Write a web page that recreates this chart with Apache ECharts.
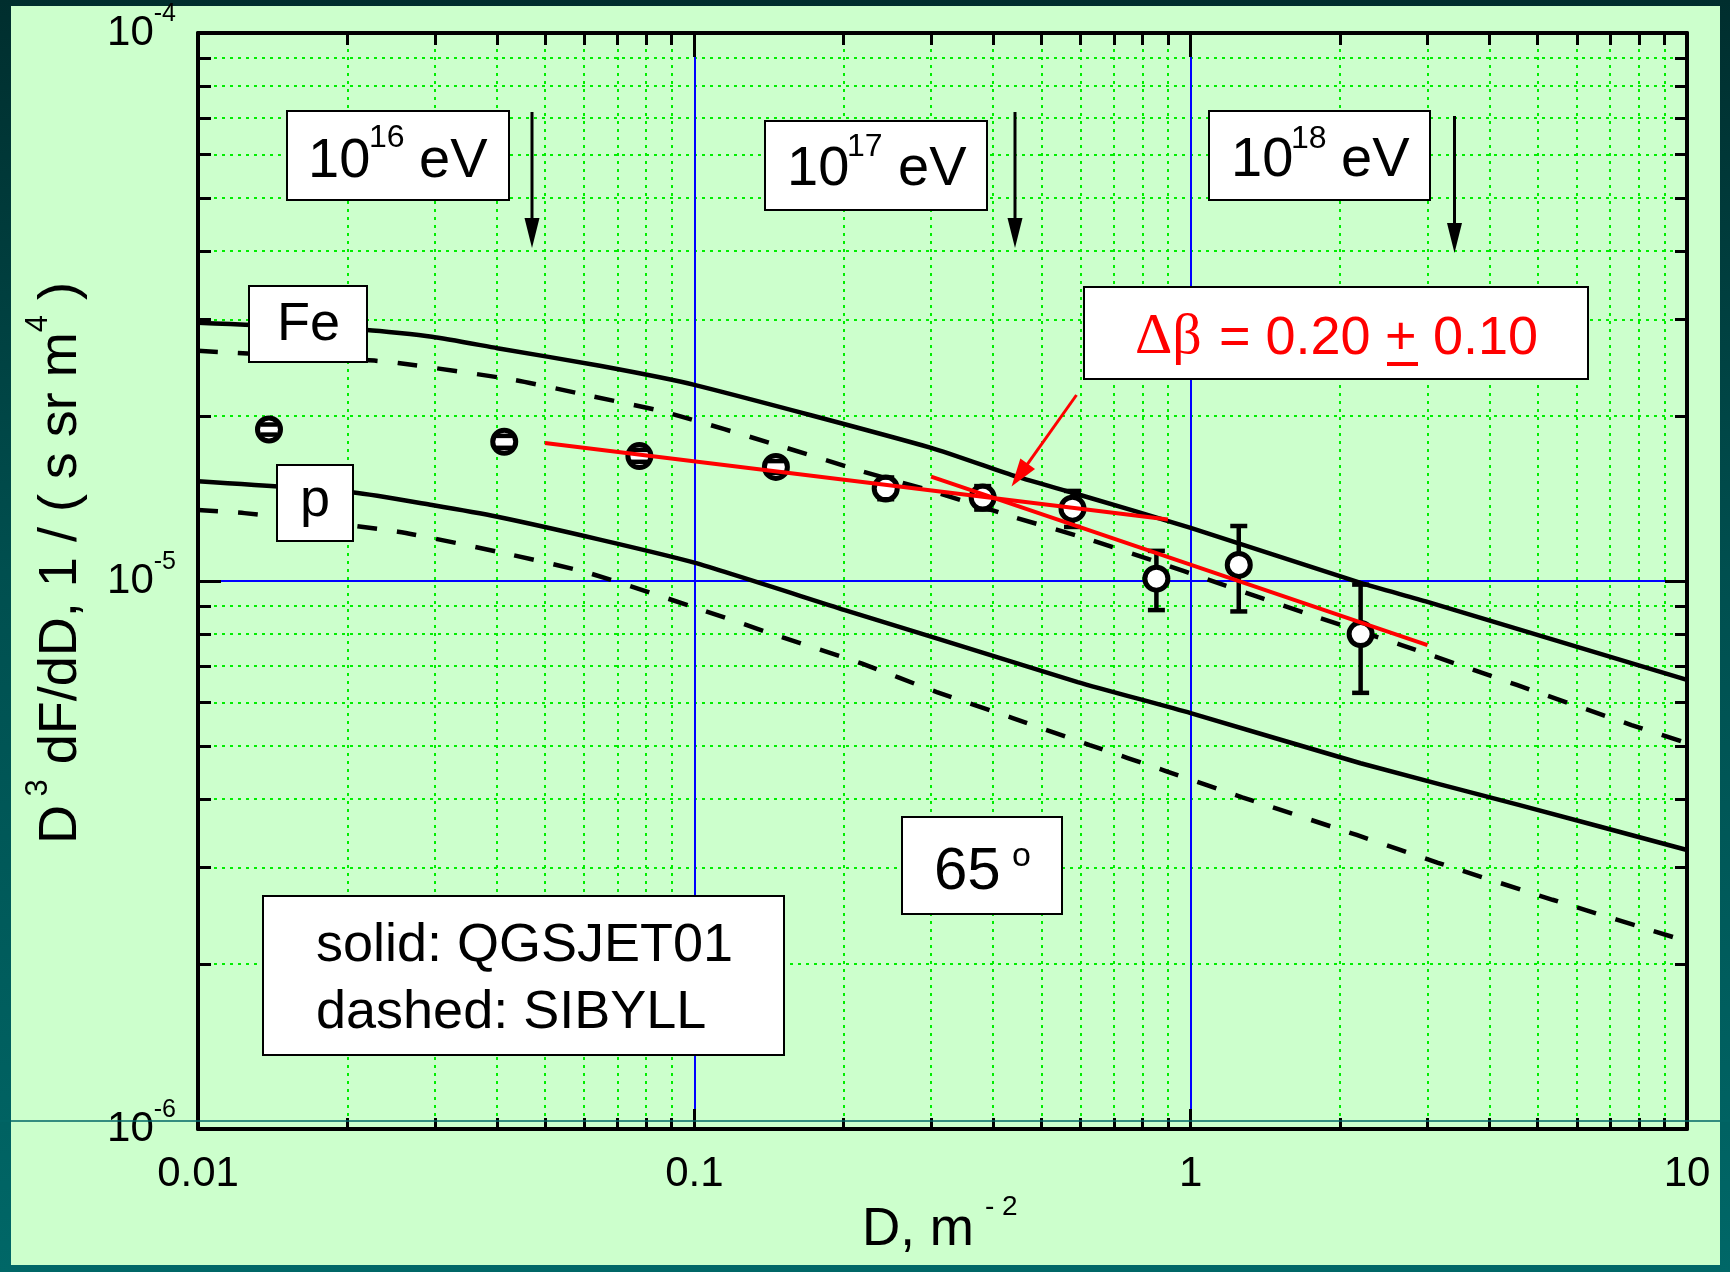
<!DOCTYPE html>
<html>
<head>
<meta charset="utf-8">
<script src="https://cdn.jsdelivr.net/npm/echarts@6/dist/echarts.min.js"></script>
<style>
  html, body { margin: 0; padding: 0; }
  body { width: 1730px; height: 1272px; position: relative; overflow: hidden;
         background: linear-gradient(to bottom, #002e2e 0%, #004f4f 45%, #006767 100%); }
  #panel { position: absolute; left: 11px; top: 6px; width: 1709px; height: 1259px; background: #ccffcc; }
  #chart { position: absolute; left: 0; top: 0; width: 1730px; height: 1272px; }
</style>
</head>
<body>
<div id="panel"></div>
<div id="chart"></div>
<script>
// Lateral distribution D^3 dF/dD of showers at zenith angle 65 deg.

// Axis ticks
const xTickValues = [0.01, 0.1, 1, 10];
const xTickLabels = ['0.01', '0.1', '1', '10'];
const yTickValues = [1e-6, 1e-5, 1e-4];
const yTickExponents = ['-6', '-5', '-4'];

// Model curves: iron, QGSJET01 (solid)
const feQgsjetD = [0.01, 0.0219, 0.0296, 0.0401, 0.0645, 0.1, 0.3, 0.446, 0.592, 1, 2.2, 3, 10];
const feQgsjetF = [2.96e-5, 2.87e-5, 2.79e-5, 2.66e-5, 2.47e-5, 2.28e-5, 1.75e-5, 1.55e-5, 1.44e-5, 1.25e-5, 9.92e-6, 9.16e-6, 6.6e-6];
// iron, SIBYLL (dashed)
const feSibyllD = [0.01, 0.0219, 0.0253, 0.0431, 0.0613, 0.088, 0.15, 0.2155, 0.308, 0.438, 0.626, 0.891, 1.07, 1.82, 2.66, 4.54, 7.73, 10];
const feSibyllF = [2.63e-5, 2.53e-5, 2.5e-5, 2.33e-5, 2.18e-5, 2.03e-5, 1.76e-5, 1.59e-5, 1.45e-5, 1.31e-5, 1.19e-5, 1.07e-5, 1.01e-5, 8.56e-6, 7.64e-6, 6.46e-6, 5.46e-6, 5.06e-6];
// proton, QGSJET01 (solid)
const pQgsjetD = [0.01, 0.0206, 0.0296, 0.0401, 0.0645, 0.1, 0.201, 0.302, 0.592, 1, 2.2, 4.6, 10];
const pQgsjetF = [1.52e-5, 1.45e-5, 1.376e-5, 1.31e-5, 1.19e-5, 1.08e-5, 8.85e-6, 7.9e-6, 6.54e-6, 5.74e-6, 4.65e-6, 3.9e-6, 3.23e-6];
// proton, SIBYLL (dashed)
const pSibyllD = [0.01, 0.0124, 0.0253, 0.0431, 0.0613, 0.105, 0.15, 0.2155, 0.308, 0.438, 0.626, 0.891, 1.27, 2.16, 3.15, 5.36, 10];
const pSibyllF = [1.348e-5, 1.33e-5, 1.23e-5, 1.115e-5, 1.034e-5, 8.82e-6, 7.9e-6, 7.09e-6, 6.27e-6, 5.62e-6, 5.02e-6, 4.5e-6, 4.03e-6, 3.44e-6, 3.06e-6, 2.62e-6, 2.2e-6];

// Measured points with error bars
const dataD  = [0.0139, 0.0414, 0.0775, 0.146, 0.243, 0.381, 0.578, 0.853, 1.25, 2.2];
const dataF  = [1.89e-5, 1.795e-5, 1.69e-5, 1.615e-5, 1.475e-5, 1.42e-5, 1.355e-5, 1.01e-5, 1.07e-5, 8.0e-6];
const dataLo = [1.85e-5, 1.75e-5, 1.65e-5, 1.575e-5, 1.41e-5, 1.35e-5, 1.255e-5, 8.85e-6, 8.8e-6, 6.25e-6];
const dataHi = [1.93e-5, 1.84e-5, 1.735e-5, 1.655e-5, 1.545e-5, 1.49e-5, 1.46e-5, 1.135e-5, 1.26e-5, 9.85e-6];

// Power-law fits over two ranges of D
const fitFlatD = [0.05, 0.9];
const fitFlatF = [1.785e-5, 1.295e-5];
const fitSteepD = [0.3, 3];
const fitSteepF = [1.55e-5, 7.64e-6];

const SANS = '"Liberation Sans", Arial, Helvetica, sans-serif';
const SERIF = '"Liberation Serif", "Times New Roman", serif';

const pairs = (xs, ys) => xs.map((x, i) => [x, ys[i]]);

function nearestIndex(list, v) {
  let best = 0;
  list.forEach((t, i) => {
    if (Math.abs(Math.log10(t) - Math.log10(v)) < Math.abs(Math.log10(list[best]) - Math.log10(v))) best = i;
  });
  return best;
}

const tickStyle = { color: '#000', width: 3 };

function logAxis(position, extent, isMain, extra) {
  return Object.assign({
    type: 'log', logBase: 10, min: extent[0], max: extent[1], position: position,
    axisLine: { show: true, onZero: false, lineStyle: { color: '#000', width: 4 } },
    axisTick: { show: true, inside: true, length: 22, lineStyle: tickStyle },
    minorTick: { show: true, splitNumber: 9, length: 12, lineStyle: tickStyle },
    splitLine: { show: isMain, lineStyle: { color: '#0000ff', width: 2 } },
    minorSplitLine: { show: isMain, lineStyle: { color: '#00ee00', width: 2, type: [3, 5] } },
    axisLabel: { show: false }
  }, extra || {});
}

// Text helper: y is the baseline of the glyphs
function label(x, baseline, text, size, family, color) {
  const y = baseline - 0.33 * size;
  return {
    type: 'text', x: x, y: y, z: 30,
    style: {
      text: text, fontSize: size, fontFamily: family || SANS, fill: color || '#000',
      align: 'left', verticalAlign: 'middle', textAlign: 'left', textVerticalAlign: 'middle'
    }
  };
}
function box(x, y, w, h) {
  return { type: 'rect', z: 25, shape: { x: x, y: y, width: w, height: h },
           style: { fill: '#fff', stroke: '#000', lineWidth: 2 } };
}
function downArrow(x, y1, y2) {
  return { type: 'group', z: 25, children: [
    { type: 'line', z: 25, shape: { x1: x, y1: y1, x2: x, y2: y2 - 26 }, style: { stroke: '#000', lineWidth: 3 } },
    { type: 'polygon', z: 25, shape: { points: [[x, y2], [x - 7.5, y2 - 30], [x + 7.5, y2 - 30]] }, style: { fill: '#000' } }
  ]};
}
function slantArrow(x1, y1, x2, y2, color) {
  const dx = x2 - x1, dy = y2 - y1, len = Math.hypot(dx, dy);
  const ux = dx / len, uy = dy / len, nx = -uy, ny = ux;
  const bx = x2 - 28 * ux, by = y2 - 28 * uy;
  return { type: 'group', z: 25, children: [
    { type: 'line', z: 25, shape: { x1: x1, y1: y1, x2: bx + 2 * ux, y2: by + 2 * uy }, style: { stroke: color, lineWidth: 3 } },
    { type: 'polygon', z: 25, shape: { points: [[x2, y2], [bx + 9 * nx, by + 9 * ny], [bx - 9 * nx, by - 9 * ny]] }, style: { fill: color } }
  ]};
}

const chart = echarts.init(document.getElementById('chart'), null, { renderer: 'canvas', width: 1730, height: 1272 });

const curveLine = (name, xs, ys, dashed) => ({
  name: name, type: 'line', xAxisIndex: 0, yAxisIndex: 0, z: 3,
  data: pairs(xs, ys), symbol: 'none', smooth: 0.2, sampling: 'none',
  lineStyle: { color: '#000', width: 4.5, type: dashed ? [20, 20] : 'solid', cap: 'butt' },
  emphasis: { disabled: true }, silent: true
});
const fitLine = (name, xs, ys) => ({
  name: name, type: 'line', xAxisIndex: 0, yAxisIndex: 0, z: 8,
  data: pairs(xs, ys), symbol: 'none',
  lineStyle: { color: '#ff0000', width: 4 }, emphasis: { disabled: true }, silent: true
});

const option = {
  backgroundColor: 'transparent',
  animation: false,
  grid: { left: 198, top: 33, right: 43, bottom: 143, containLabel: false },
  xAxis: [
    logAxis('bottom', [0.01, 10], true, {
      axisTick: { show: true, inside: true, length: 20, lineStyle: tickStyle },
      minorTick: { show: true, splitNumber: 9, length: 11, lineStyle: tickStyle },
      axisLabel: {
        show: true, margin: 24, fontSize: 42, fontFamily: SANS, color: '#000',
        showMinLabel: true, showMaxLabel: true,
        formatter: v => xTickLabels[nearestIndex(xTickValues, v)]
      }
    }),
    logAxis('top', [0.01, 10], false, {
      axisTick: { show: true, inside: true, length: 24, lineStyle: tickStyle }
    })
  ],
  yAxis: [
    logAxis('left', [1e-6, 1e-4], true, {
      axisTick: { show: true, inside: true, length: 23, lineStyle: tickStyle },
      minorTick: { show: true, splitNumber: 9, length: 13, lineStyle: tickStyle },
      axisLabel: {
        show: true, margin: 22, color: '#000', showMinLabel: true, showMaxLabel: true,
        formatter: v => '{b|10}{s|' + yTickExponents[nearestIndex(yTickValues, v)] + '}',
        rich: {
          b: { fontSize: 42, fontFamily: SANS, lineHeight: 62 },
          s: { fontSize: 25, fontFamily: SANS, lineHeight: 25, verticalAlign: 'top' }
        }
      }
    }),
    logAxis('right', [1e-6, 1e-4], false, {})
  ],
  series: [
    curveLine('Fe QGSJET01', feQgsjetD, feQgsjetF, false),
    curveLine('Fe SIBYLL', feSibyllD, feSibyllF, true),
    curveLine('p QGSJET01', pQgsjetD, pQgsjetF, false),
    curveLine('p SIBYLL', pSibyllD, pSibyllF, true),
    {
      name: 'data', type: 'custom', xAxisIndex: 0, yAxisIndex: 0, z: 6, silent: true,
      data: dataD.map((d, i) => [d, dataF[i], dataLo[i], dataHi[i]]),
      encode: { x: 0, y: [1, 2, 3] },
      renderItem: (params, api) => {
        const c = api.coord([api.value(0), api.value(1)]);
        const lo = api.coord([api.value(0), api.value(2)]);
        const hi = api.coord([api.value(0), api.value(3)]);
        const cw = 8.5;
        const ls = { stroke: '#000', lineWidth: 4.5 };
        return { type: 'group', children: [
          { type: 'line', shape: { x1: c[0], y1: hi[1], x2: c[0], y2: lo[1] }, style: ls },
          { type: 'circle', shape: { cx: c[0], cy: c[1], r: 11.5 }, style: { fill: '#fff', stroke: '#000', lineWidth: 5 } },
          { type: 'line', shape: { x1: c[0] - cw, y1: hi[1], x2: c[0] + cw, y2: hi[1] }, style: ls },
          { type: 'line', shape: { x1: c[0] - cw, y1: lo[1], x2: c[0] + cw, y2: lo[1] }, style: ls }
        ]};
      }
    },
    fitLine('fit D < 1', fitFlatD, fitFlatF),
    fitLine('fit D > 0.3', fitSteepD, fitSteepF)
  ],
  graphic: { elements: [
    // thin rule across the frame
    { type: 'line', z: 40, shape: { x1: 0, y1: 1121, x2: 1730, y2: 1121 }, style: { stroke: '#006666', lineWidth: 1.5 } },

    // energy markers
    box(287, 111, 222, 89),
    label(308, 180, '10', 56), label(369, 149, '16', 32), label(419, 180, 'eV', 56),
    downArrow(532, 112, 248),
    box(765, 121, 222, 89),
    label(787, 188, '10', 56), label(847, 158, '17', 32), label(898, 188, 'eV', 56),
    downArrow(1015, 112, 248),
    box(1209, 111, 221, 89),
    label(1231, 179, '10', 56), label(1291, 150, '18', 32), label(1341, 179, 'eV', 56),
    downArrow(1454.5, 116, 253),

    // slope difference
    box(1084, 287, 504, 92),
    label(1135, 357, '\u0394\u03b2', 58, SERIF, '#ff0000'),
    label(1219, 357, '= 0.20', 54, SANS, '#ff0000'),
    label(1385, 357, '+', 54, SANS, '#ff0000'),
    { type: 'rect', z: 30, shape: { x: 1387, y: 362, width: 31, height: 4 }, style: { fill: '#ff0000' } },
    label(1433, 357, '0.10', 54, SANS, '#ff0000'),
    slantArrow(1076.5, 395, 1011.5, 486.5, '#ff0000'),

    // primary labels
    box(249, 286, 118, 76), label(277, 343, 'Fe', 54),
    box(277, 465, 76, 76), label(300, 519, 'p', 54),

    // zenith angle
    box(902, 817, 160, 97), label(934, 892, '65', 60), label(1012, 868, 'o', 34),

    // model legend
    box(263, 896, 521, 159),
    label(316, 964, 'solid: QGSJET01', 54),
    label(316, 1031, 'dashed: SIBYLL', 54),

    // axis titles
    label(862, 1248, 'D, m', 53), label(985, 1217, '- 2', 28),
    {
      type: 'text', x: 61, y: 563, rotation: Math.PI / 2, z: 30,
      style: {
        text: '{b|D}{s| 3}{b| dF/dD, 1 / ( s sr m}{s|4}{b| )}',
        fill: '#000', align: 'center', verticalAlign: 'middle', textAlign: 'center', textVerticalAlign: 'middle',
        rich: {
          b: { fontSize: 54, fontFamily: SANS, lineHeight: 76 },
          s: { fontSize: 31, fontFamily: SANS, lineHeight: 31, verticalAlign: 'top' }
        }
      }
    }
  ]}
};

chart.setOption(option);
</script>
</body>
</html>
